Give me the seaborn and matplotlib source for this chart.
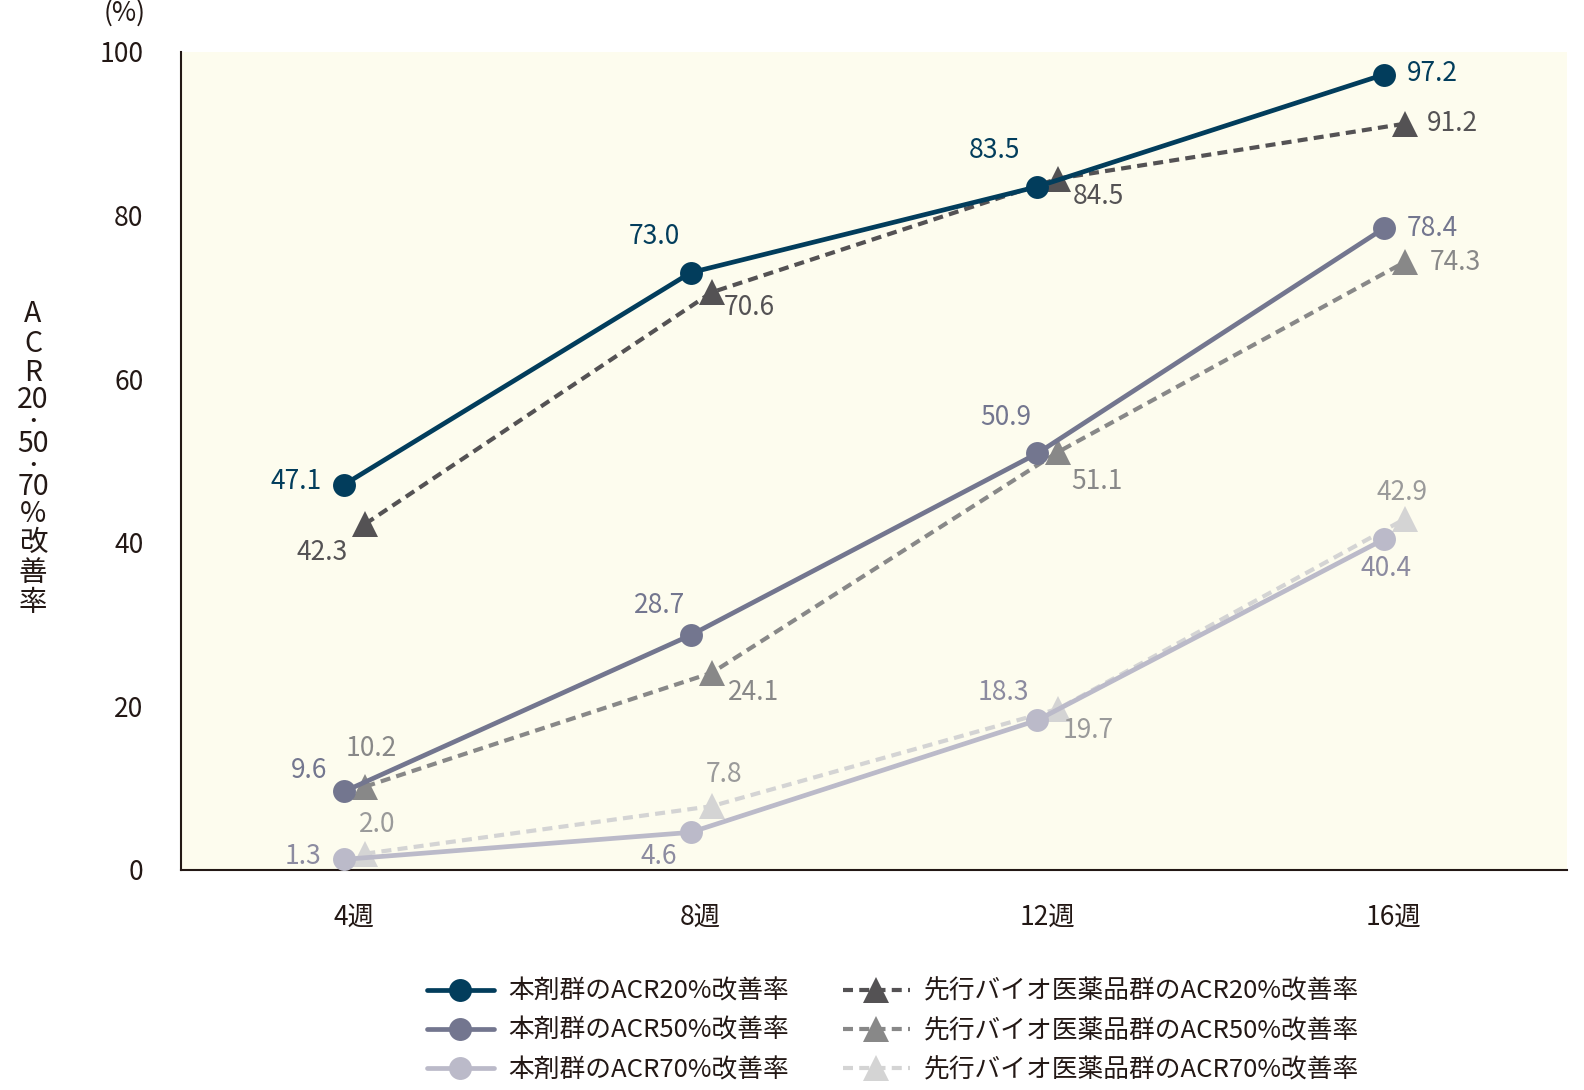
import numpy as np
import pandas as pd
import seaborn as sns
import matplotlib.pyplot as plt
from matplotlib.lines import Line2D

# データ
weeks = ["4週", "8週", "12週", "16週"]
drug_acr20 = [47.1, 73.0, 83.5, 97.2]
drug_acr50 = [9.6, 28.7, 50.9, 78.4]
drug_acr70 = [1.3, 4.6, 18.3, 40.4]
bio_acr20 = [42.3, 70.6, 84.5, 91.2]
bio_acr50 = [10.2, 24.1, 51.1, 74.3]
bio_acr70 = [2.0, 7.8, 19.7, 42.9]

sns.set_style("white")
plt.rcParams["font.family"] = ["Noto Sans CJK JP", "DejaVu Sans"]

W, H = 1584, 1090
fig, ax = plt.subplots(figsize=(W / 100, H / 100), dpi=100)
fig.subplots_adjust(left=181 / W, right=1567 / W, bottom=1 - 870 / H, top=1 - 51.7 / H)
ax.set_facecolor("#fdfcee")

dash = (0, (2.4, 1.5))
# (label, values, line color, text color, marker, linestyle, x shift, label offsets in px)
series = [
    ("先行バイオ医薬品群のACR70%改善率", bio_acr70, "#d4d4d4", "#9a9a9a", "^", dash, 0.032,
     [(12, 29), (12, 31), (30, -21), (-3, 26)]),
    ("先行バイオ医薬品群のACR50%改善率", bio_acr50, "#888888", "#888888", "^", dash, 0.032,
     [(6, 38), (41, -20), (38, -29), (50, 0)]),
    ("先行バイオ医薬品群のACR20%改善率", bio_acr20, "#545254", "#545254", "^", dash, 0.032,
     [(-43, -28), (37, -15), (40, -18), (47, 0)]),
    ("本剤群のACR70%改善率", drug_acr70, "#bbbac9", "#8c8ba0", "o", "-", -0.029,
     [(-41, 3), (-32, -24), (-33, 27), (2, -29)]),
    ("本剤群のACR50%改善率", drug_acr50, "#73768f", "#73768f", "o", "-", -0.029,
     [(-35, 21), (-31, 29), (-31, 36), (48, 0)]),
    ("本剤群のACR20%改善率", drug_acr20, "#023d5c", "#023d5c", "o", "-", -0.029,
     [(-48, 3), (-36, 36), (-42, 36), (48, 1)]),
]

xpos = np.arange(len(weeks))
handles = {}
for i, (name, vals, col, tcol, mk, ls, dx, offs) in enumerate(series):
    df = pd.DataFrame({"x": xpos + dx, "y": vals})
    ms = 16.5 if mk == "o" else 18.5
    lw = 3.4 if mk == "o" else 3
    sns.lineplot(data=df, x="x", y="y", ax=ax, color=col, marker=mk, markersize=ms,
                 markeredgewidth=0, lw=lw, linestyle=ls, legend=False,
                 zorder=3 + i, clip_on=False)
    for xv, yv, (ox, oy) in zip(xpos + dx, vals, offs):
        ax.annotate(f"{yv:.1f}", (xv, yv), xytext=(ox * 1.01, oy * 1.01),
                    textcoords="offset pixels", ha="center", va="center",
                    fontsize=19, color=tcol)
    handles[name] = Line2D([], [], color=col, marker=mk, markersize=ms,
                           markeredgewidth=0, lw=lw, linestyle=ls)

ax.set_xlim(-0.5, 3.5)
ax.set_ylim(0, 100)
ax.set_xticks(xpos)
ax.set_xticklabels(weeks)
ax.set_yticks(range(0, 101, 20))
ax.set_xlabel("")
ax.set_ylabel("")
sns.despine(ax=ax)
for s in ["left", "bottom"]:
    ax.spines[s].set_color("#231815")
    ax.spines[s].set_linewidth(1.5)
ax.tick_params(axis="both", length=15, width=1.2, color="#231815",
               labelsize=19, labelcolor="#231815")
ax.tick_params(axis="y", pad=12)
ax.tick_params(axis="x", pad=9)

# 縦書きの軸ラベル(1文字ずつ配置)
ylab = ["A", "C", "R", "20", "•", "50", "•", "70", "%", "改", "善", "率"]
ylab_y = [314, 344, 373, 400, 421, 444, 465, 487, 514, 543, 573, 603]
for ch, yy in zip(ylab, ylab_y):
    fs = 12 if ch == "•" else 20.5
    fig.text(33 / W, 1 - yy / H, ch, ha="center", va="center", fontsize=fs, color="#231815")
fig.text(125 / W, 1 - 13 / H, "(%)", ha="center", va="center", fontsize=19, color="#231815")

order = ["本剤群のACR20%改善率", "本剤群のACR50%改善率", "本剤群のACR70%改善率",
         "先行バイオ医薬品群のACR20%改善率", "先行バイオ医薬品群のACR50%改善率",
         "先行バイオ医薬品群のACR70%改善率"]
fig.legend([handles[k] for k in order], order, ncol=2, loc="center",
           bbox_to_anchor=(893 / W, 1 - 1031 / H), frameon=False, fontsize=18.5,
           handlelength=2.6, handletextpad=0.55, columnspacing=2.1, labelspacing=0.52,
           labelcolor="#231815")

fig.savefig("out.png", dpi=100)
